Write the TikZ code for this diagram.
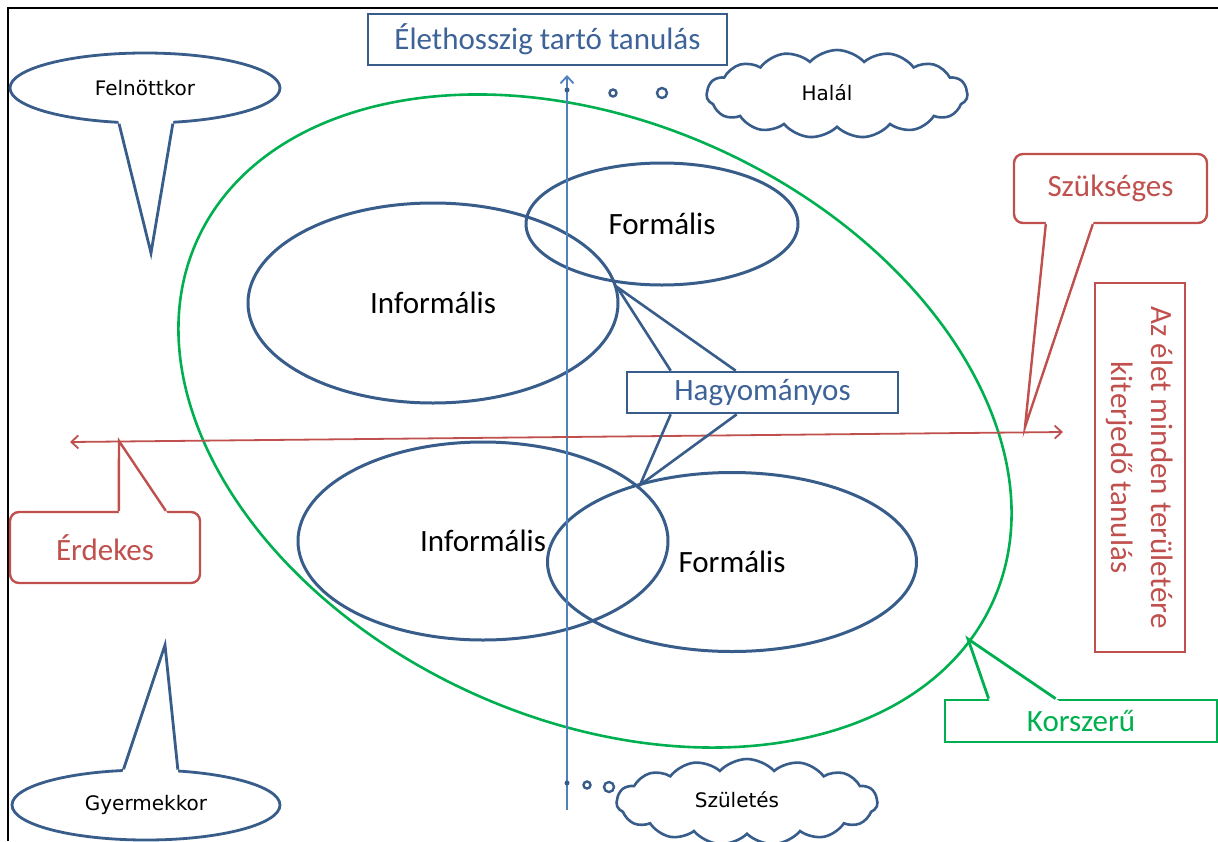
\documentclass[tikz,border=0pt]{standalone}
\usepackage{fontspec}
\setmainfont{Carlito}
\newfontfamily\smallsans{DejaVu Sans}
\usetikzlibrary{shapes.geometric,shapes.symbols,arrows.meta,calc}

\definecolor{outlineblue}{HTML}{385D8A}
\definecolor{axisblue}{HTML}{4F81BD}
\definecolor{textblue}{HTML}{3D6398}
\definecolor{callred}{HTML}{C0504D}
\definecolor{callgreen}{HTML}{00B050}

\tikzset{
  bigtext/.style={font=\fontsize{31}{40}\selectfont},
  smalltext/.style={font=\smallsans\fontsize{20}{24}\selectfont},
  oval/.style={ellipse, draw=outlineblue, line width=3pt, inner sep=0pt, bigtext},
  bluebox/.style={draw=outlineblue, line width=2.6pt, fill=white, inner sep=0pt, bigtext, text=textblue},
  redbox/.style={draw=callred, line width=2.4pt, fill=white, inner sep=0pt, bigtext, text=callred},
  greenbox/.style={draw=callgreen, line width=2.8pt, fill=white, inner sep=0pt, bigtext, text=callgreen},
  ageoval/.style={ellipse, draw=outlineblue, line width=2.8pt, fill=white, inner sep=0pt, smalltext},
  thought/.style={cloud, draw=outlineblue, line width=2.6pt, fill=white, cloud puffs=15,
    cloud puff arc=95, cloud ignores aspect, inner sep=0pt},
  bubble/.style={circle, draw=outlineblue, line width=2.4pt, fill=white, inner sep=0pt},
  axistip/.tip={Straight Barb[length=7pt,width=13pt]},
}

% callout tail: white wedge that opens the border, then its two sides
\newcommand{\calltail}[4]{%
  \fill[white] ($(#2)!-4pt!(#3)$) -- (#3) -- ($(#4)!-4pt!(#3)$) -- cycle;
  \draw[#1, line join=miter] (#2) -- (#3) -- (#4);}

\begin{document}
\begin{tikzpicture}[x=1pt,y=-1pt]
\useasboundingbox (0,0) rectangle (1218,841);
\fill[white] (0,0) rectangle (1218,841);

% frame
\draw[line width=2.5pt, black] (8,841) -- (8,8) -- (1218,8);

% outer green oval
\node[ellipse, draw=callgreen, line width=2.6pt, inner sep=0pt, rotate=-24.5,
      minimum width=874pt, minimum height=597pt] (modern) at (595,421) {};

% the four learning ovals
\node[oval, minimum width=370pt, minimum height=200pt] (infA) at (433,303) {Informális};
\node[oval, minimum width=272pt, minimum height=122pt] (formA) at (662,224) {Formális};
\node[oval, minimum width=370pt, minimum height=198pt] (infB) at (483,541) {Informális};
\node[oval, minimum width=369pt, minimum height=179pt] (formB) at (732,562) {Formális};

% time axis
\coordinate (axisbot) at (567,810);
\coordinate (axistop) at (567,75);
\draw[axisblue, line width=1.8pt, -{axistip}] (axisbot) -- (axistop);

% breadth axis
\coordinate (axisL) at (70,442);
\coordinate (axisR) at (1063,432);
\draw[callred, line width=1.8pt, {axistip}-{axistip}] (axisR) -- (axisL);

% title
\node[bluebox, minimum width=359pt, minimum height=51pt] (title) at (547.5,39.5) {Élethosszig tartó tanulás};

% traditional
\node[bluebox, minimum width=271pt, minimum height=41pt] (trad) at (762.5,392.5) {Hagyományos};
\coordinate (tradtipA) at (617,287);
\coordinate (tradtipB) at (640,485);
\draw[outlineblue, line width=2.6pt, line join=miter]
  ($(trad.north west)+(45,0)$) -- (tradtipA) -- ($(trad.north west)+(110,0)$);
\draw[outlineblue, line width=2.6pt, line join=miter]
  ($(trad.south west)+(45,0)$) -- (tradtipB) -- ($(trad.south west)+(111,0)$);

% adulthood
\node[ageoval, minimum width=270pt, minimum height=70pt] (adult) at (145,88) {Felnöttkor};
\coordinate (adulttip) at (151,253);
\calltail{outlineblue, line width=2.8pt}{adult.234}{adulttip}{adult.308}

% childhood
\node[ageoval, minimum width=268pt, minimum height=70pt] (child) at (146,805) {Gyermekkor};
\coordinate (childtip) at (165,645);
\calltail{outlineblue, line width=2.8pt}{child.122.5}{childtip}{child.48.7}

% interesting
\node[redbox, rounded corners=9pt, minimum width=190pt, minimum height=71pt] (interest) at (105,547.5) {Érdekes};
\coordinate (interesttip) at (119,441);
\coordinate (interestA) at ($(interest.north west)+(110,0)$);
\coordinate (interestB) at ($(interest.north west)+(157,0)$);
\calltail{callred, line width=2.4pt}{interestA}{interesttip}{interestB}

% necessary
\node[redbox, rounded corners=9pt, minimum width=193pt, minimum height=69pt] (need) at (1110.5,188.5) {Szükséges};
\coordinate (needtip) at (1025,427);
\coordinate (needA) at ($(need.south west)+(33,0)$);
\coordinate (needB) at ($(need.south west)+(80,0)$);
\calltail{callred, line width=2.4pt}{needA}{needtip}{needB}

% life-wide learning
\node[redbox, rotate=-90, align=center, minimum width=369pt, minimum height=90pt] (wide) at (1140,467.5)
  {Az élet minden területére\\kiterjedő tanulás};

% modern
\node[greenbox, minimum width=272pt, minimum height=42pt] (mod) at (1081,721) {Korszerű};
\coordinate (modtip) at (968,639);
\coordinate (modA) at ($(mod.north west)+(45,0)$);
\coordinate (modB) at ($(mod.north west)+(112,0)$);
\calltail{callgreen, line width=2.8pt}{modA}{modtip}{modB}

% death, thought bubble
\node[thought, minimum width=261pt, minimum height=88pt] (death) at (837,94) {};
\node[smalltext] (deathtext) at (827,93) {Halál};
\node[circle, fill=outlineblue, inner sep=0pt, minimum size=5pt] (dA) at (567,90) {};
\node[bubble, minimum size=7pt] (dB) at (613,93) {};
\node[bubble, minimum size=10pt] (dC) at (662,93) {};

% birth, thought bubble
\node[thought, minimum width=261pt, minimum height=86pt] (birth) at (747,802) {};
\node[smalltext] (birthtext) at (737,800) {Születés};
\node[circle, fill=outlineblue, inner sep=0pt, minimum size=5pt] (bA) at (567,783) {};
\node[bubble, minimum size=7pt] (bB) at (587,785) {};
\node[bubble, minimum size=10pt] (bC) at (609,787) {};
\end{tikzpicture}
\end{document}
